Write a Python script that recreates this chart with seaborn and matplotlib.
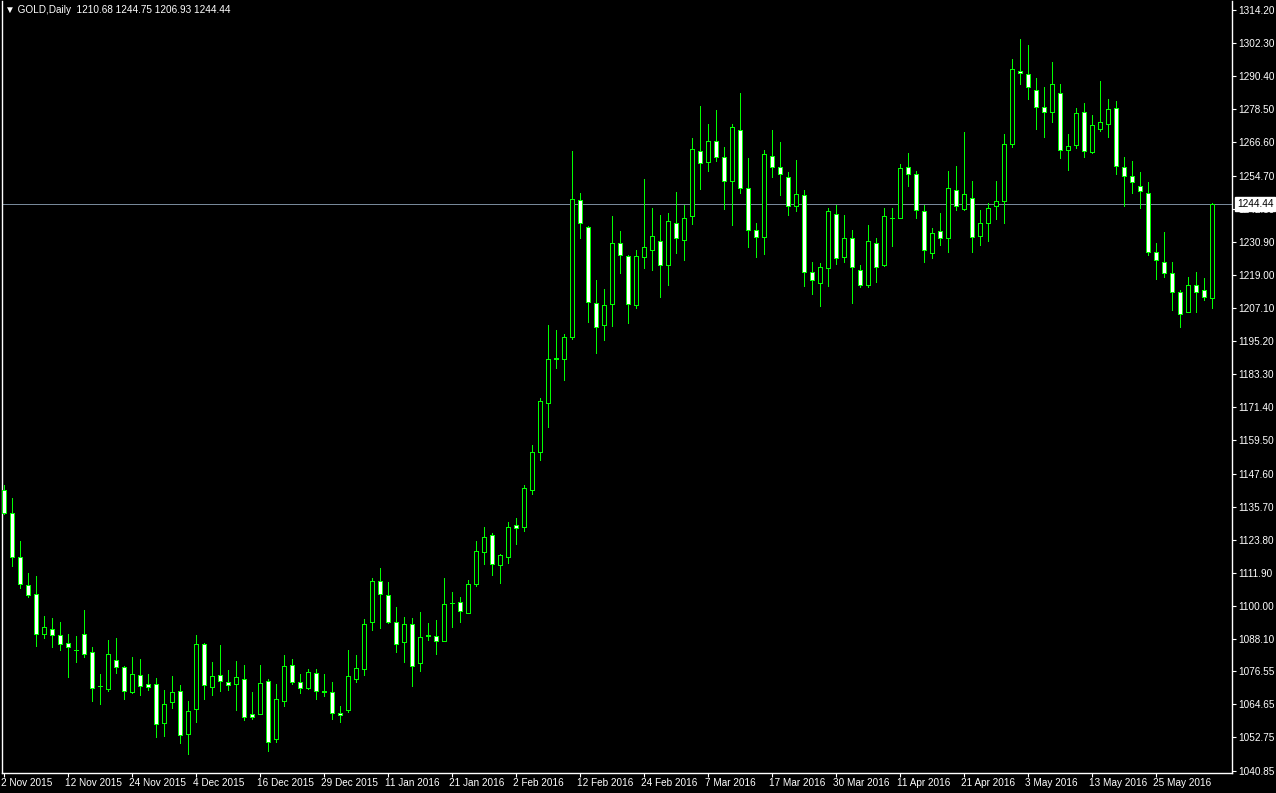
import matplotlib
matplotlib.use("Agg")
import matplotlib.pyplot as plt
import matplotlib.transforms as mtransforms
import numpy as np
import pandas as pd
import seaborn as sns

# daily GOLD candles, 2 Nov 2015 .. 3 Jun 2016
opens = [
    1141.8, 1133.5, 1117.7, 1107.6, 1104.4, 1090.0, 1091.8, 1089.7, 1086.5, 1084.1,
    1089.8, 1083.5, 1071.2, 1070.1, 1080.7, 1078.2, 1069.0, 1075.3, 1072.0, 1072.0,
    1058.0, 1065.6, 1069.5, 1054.1, 1062.9, 1086.4, 1070.9, 1075.3, 1072.7, 1072.0,
    1073.8, 1061.1, 1061.2, 1073.1, 1052.1, 1065.9, 1078.9, 1072.7, 1070.6, 1076.0,
    1069.3, 1069.2, 1061.6, 1062.7, 1073.8, 1077.4, 1094.3, 1109.1, 1104.0, 1094.3,
    1087.1, 1093.6, 1079.6, 1089.4, 1089.3, 1087.5, 1101.1, 1101.5, 1097.6, 1108.0,
    1119.5, 1125.6, 1114.8, 1117.7, 1129.2, 1128.5, 1141.6, 1155.2, 1173.1, 1189.0,
    1188.9, 1196.8, 1246.0, 1236.3, 1208.9, 1200.8, 1208.7, 1230.3, 1225.6, 1208.3,
    1225.3, 1227.8, 1231.2, 1222.4, 1237.8, 1231.4, 1240.0, 1263.4, 1259.4, 1267.0,
    1261.2, 1252.6, 1270.9, 1250.1, 1235.0, 1232.5, 1261.9, 1257.6, 1254.0, 1243.6,
    1247.6, 1220.2, 1215.9, 1221.3, 1240.7, 1225.3, 1232.1, 1220.9, 1215.5, 1230.6,
    1222.4, 1239.6, 1239.6, 1257.6, 1255.1, 1241.8, 1226.7, 1234.6, 1232.1, 1249.4,
    1242.5, 1246.5, 1232.8, 1237.8, 1243.9, 1245.4, 1265.9, 1292.2, 1291.1, 1285.3,
    1279.2, 1277.4, 1284.2, 1263.7, 1265.5, 1277.4, 1263.0, 1271.6, 1273.1, 1278.8,
    1257.6, 1254.7, 1250.8, 1248.6, 1227.1, 1223.5, 1219.5, 1212.7, 1205.8, 1215.2,
    1213.4, 1210.68,
]
highs = [
    1143.4, 1138.7, 1123.2, 1111.7, 1110.6, 1096.3, 1095.5, 1094.4, 1089.8, 1089.1,
    1098.4, 1085.4, 1075.7, 1087.6, 1088.3, 1078.4, 1081.5, 1081.1, 1075.4, 1074.2,
    1069.9, 1074.9, 1071.7, 1066.0, 1089.4, 1086.8, 1079.7, 1085.8, 1076.8, 1080.1,
    1078.9, 1069.0, 1078.6, 1073.6, 1071.8, 1082.2, 1081.1, 1075.7, 1077.4, 1077.4,
    1075.6, 1072.5, 1063.9, 1084.0, 1082.2, 1095.4, 1110.2, 1113.5, 1108.7, 1099.5,
    1096.0, 1095.5, 1097.7, 1093.7, 1094.8, 1109.9, 1104.9, 1103.1, 1109.2, 1123.2,
    1128.3, 1126.1, 1118.8, 1130.0, 1131.5, 1143.4, 1157.7, 1174.6, 1200.9, 1199.1,
    1197.7, 1263.5, 1248.3, 1236.5, 1217.1, 1213.9, 1240.1, 1234.7, 1226.3, 1228.1,
    1253.3, 1243.0, 1240.5, 1241.2, 1248.7, 1244.0, 1268.1, 1279.6, 1273.1, 1278.1,
    1264.8, 1273.1, 1284.3, 1260.9, 1237.8, 1263.7, 1270.9, 1266.7, 1255.9, 1260.2,
    1249.4, 1223.8, 1223.1, 1242.9, 1244.0, 1240.4, 1235.3, 1222.7, 1236.8, 1232.1,
    1243.2, 1242.9, 1258.7, 1262.8, 1256.5, 1244.0, 1235.7, 1241.4, 1256.5, 1258.0,
    1270.2, 1252.6, 1242.2, 1244.7, 1252.6, 1269.5, 1296.5, 1303.7, 1301.6, 1289.6,
    1286.5, 1295.4, 1287.5, 1269.5, 1278.8, 1280.6, 1276.3, 1288.6, 1282.1, 1281.4,
    1261.2, 1260.1, 1255.8, 1252.2, 1230.3, 1234.3, 1223.6, 1213.4, 1218.1, 1220.2,
    1217.7, 1244.75,
]
lows = [
    1132.9, 1114.2, 1106.4, 1103.2, 1085.6, 1088.4, 1085.2, 1084.0, 1074.4, 1079.8,
    1081.6, 1065.8, 1064.6, 1069.6, 1076.0, 1066.7, 1068.8, 1067.9, 1069.7, 1052.8,
    1053.2, 1063.3, 1050.7, 1046.9, 1058.2, 1066.5, 1067.9, 1069.4, 1069.7, 1062.7,
    1058.9, 1059.3, 1061.0, 1047.8, 1051.0, 1064.0, 1071.9, 1068.6, 1070.2, 1066.5,
    1067.6, 1059.3, 1058.2, 1061.8, 1072.6, 1075.0, 1091.3, 1092.0, 1094.0, 1083.4,
    1079.8, 1071.4, 1076.6, 1087.7, 1082.7, 1087.3, 1092.4, 1094.2, 1097.4, 1107.1,
    1115.0, 1111.1, 1108.2, 1115.4, 1122.2, 1127.0, 1140.1, 1152.4, 1164.3, 1185.5,
    1181.2, 1195.8, 1232.3, 1202.1, 1190.9, 1195.6, 1200.6, 1219.7, 1201.7, 1207.1,
    1221.3, 1220.8, 1211.1, 1215.4, 1226.9, 1224.4, 1237.3, 1249.9, 1256.4, 1260.1,
    1242.7, 1237.0, 1248.3, 1229.1, 1225.5, 1226.5, 1254.2, 1247.8, 1240.6, 1242.0,
    1215.0, 1212.2, 1207.8, 1215.0, 1222.9, 1223.7, 1208.9, 1214.5, 1214.8, 1216.5,
    1222.2, 1229.4, 1239.4, 1251.1, 1239.6, 1223.7, 1225.1, 1229.9, 1227.3, 1242.2,
    1242.3, 1227.3, 1229.9, 1231.2, 1239.1, 1237.5, 1264.8, 1287.5, 1282.1, 1271.5,
    1268.6, 1274.0, 1261.1, 1256.8, 1264.7, 1261.4, 1262.7, 1270.6, 1268.6, 1255.1,
    1243.6, 1248.6, 1242.9, 1226.3, 1217.6, 1218.3, 1206.5, 1200.1, 1205.6, 1205.8,
    1209.8, 1206.93,
]
closes = [
    1133.4, 1117.6, 1107.9, 1104.0, 1090.0, 1092.6, 1089.7, 1086.4, 1085.2, 1084.0,
    1082.7, 1070.6, 1071.1, 1082.6, 1078.0, 1069.5, 1075.6, 1071.3, 1070.9, 1057.6,
    1064.8, 1069.2, 1053.7, 1062.3, 1086.4, 1071.7, 1074.9, 1073.1, 1071.7, 1074.6,
    1060.2, 1060.2, 1072.4, 1051.2, 1066.6, 1078.5, 1072.7, 1070.6, 1076.4, 1069.5,
    1069.2, 1061.6, 1060.9, 1074.9, 1077.8, 1093.6, 1109.1, 1104.4, 1094.3, 1086.4,
    1093.6, 1078.5, 1088.9, 1089.3, 1087.5, 1100.8, 1101.0, 1098.3, 1108.0, 1119.9,
    1124.9, 1115.2, 1118.4, 1128.5, 1128.1, 1142.3, 1155.2, 1173.6, 1188.9, 1188.9,
    1196.8, 1246.3, 1237.5, 1209.1, 1200.4, 1208.3, 1230.6, 1226.0, 1208.7, 1225.6,
    1228.9, 1232.8, 1222.4, 1238.2, 1232.1, 1239.6, 1264.1, 1259.1, 1267.0, 1261.2,
    1252.9, 1272.0, 1250.4, 1235.0, 1232.5, 1262.3, 1257.6, 1255.1, 1243.6, 1247.9,
    1219.9, 1217.0, 1221.7, 1241.8, 1224.9, 1232.1, 1222.0, 1215.2, 1231.0, 1222.0,
    1240.0, 1239.5, 1257.3, 1255.1, 1242.2, 1227.8, 1233.9, 1232.1, 1250.1, 1243.9,
    1247.9, 1232.5, 1237.5, 1242.9, 1245.4, 1265.9, 1292.9, 1291.4, 1286.4, 1279.2,
    1277.4, 1287.5, 1263.7, 1265.2, 1277.0, 1263.4, 1272.7, 1273.8, 1278.5, 1258.3,
    1254.4, 1252.2, 1249.0, 1227.1, 1224.2, 1219.5, 1212.7, 1205.1, 1215.2, 1212.7,
    1210.9, 1244.44,
]

date_labels = [
    "2 Nov 2015", "12 Nov 2015", "24 Nov 2015", "4 Dec 2015", "16 Dec 2015",
    "29 Dec 2015", "11 Jan 2016", "21 Jan 2016", "2 Feb 2016", "12 Feb 2016",
    "24 Feb 2016", "7 Mar 2016", "17 Mar 2016", "30 Mar 2016", "11 Apr 2016",
    "21 Apr 2016", "3 May 2016", "13 May 2016", "25 May 2016",
]
price_ticks = [
    1314.20, 1302.30, 1290.40, 1278.50, 1266.60, 1254.70, 1242.80, 1230.90,
    1219.00, 1207.10, 1195.20, 1183.30, 1171.40, 1159.50, 1147.60, 1135.70,
    1123.80, 1111.90, 1100.00, 1088.10, 1076.55, 1064.65, 1052.75, 1040.85,
]
bid_price = 1244.44
label_step = 8

df = pd.DataFrame({"open": opens, "high": highs, "low": lows, "close": closes})
df["idx"] = np.arange(len(df))
df["bull"] = df["close"] >= df["open"]

sns.set_theme(style="dark")
plt.rcParams["font.family"] = ["Liberation Sans", "DejaVu Sans"]

W, H = 1276, 793
fig = plt.figure(figsize=(W / 100, H / 100), dpi=100, facecolor="black")

# chart box in pixels
px_left, px_right, px_top, px_bottom = 2, 1232, 1, 773
ax = fig.add_axes([px_left / W, 1 - px_bottom / H,
                   (px_right - px_left) / W, (px_bottom - px_top) / H])
ax.set_facecolor("black")

green = "#00ff00"
one_px = 0.72  # points

# wicks then bodies
ax.vlines(df["idx"], df["low"], df["high"], color=green, linewidth=one_px,
          antialiased=False, zorder=2)
body_lo = df[["open", "close"]].min(axis=1)
body_h = (df["open"] - df["close"]).abs()
fills = np.where(df["bull"], "black", "white")
ax.bar(df["idx"], body_h, bottom=body_lo, width=0.5, color=fills,
       edgecolor=green, linewidth=one_px, antialiased=False, zorder=3)

ax.axhline(bid_price, color="#778899", linewidth=one_px, antialiased=False, zorder=1)

# scales
px_per_bar, first_px = 8, 3.5
ax.set_xlim((px_left - first_px) / px_per_bar, (px_right - first_px) / px_per_bar)
ppu = (770.5 - 10) / (1314.20 - 1040.85)
ymax = 1314.20 + (10 - px_top) / ppu
ymin = 1314.20 - (px_bottom - 10) / ppu
ax.set_ylim(ymin, ymax)

ax.yaxis.tick_right()
ax.set_yticks(price_ticks)
ax.set_yticklabels([f"{v:.2f}" for v in price_ticks])
ax.set_xticks(np.arange(0, len(date_labels) * label_step, label_step))
ax.set_xticklabels(date_labels, ha="left")
ax.tick_params(axis="both", colors="white", labelcolor="white", labelsize=7.2,
               length=3, width=0.8, direction="out")
ax.tick_params(axis="y", pad=1.5, right=True, left=False)
ax.tick_params(axis="x", pad=0.5, bottom=True)
ax.grid(False)
for side in ["left", "right", "bottom", "top"]:
    ax.spines[side].set_color("white")
    ax.spines[side].set_linewidth(1)
ax.spines["top"].set_visible(False)

# date labels start a little left of their bar
shift = mtransforms.ScaledTranslation(-2.5 / 100, 0, fig.dpi_scale_trans)
for lbl in ax.get_xticklabels():
    lbl.set_transform(lbl.get_transform() + shift)

# current price marker on the scale
ax.text(1.004, bid_price, f"{bid_price:.2f}", transform=ax.get_yaxis_transform(),
        ha="left", va="center", fontsize=7.2, color="black", zorder=10, clip_on=False,
        bbox=dict(facecolor="white", edgecolor="white", pad=1.2))

# header
fig.text(5 / W, 1 - 10 / H, "\u25bc GOLD,Daily  1210.68 1244.75 1206.93 1244.44",
         color="white", fontsize=7.2, ha="left", va="center")

fig.savefig("out.png", dpi=100, facecolor="black")
